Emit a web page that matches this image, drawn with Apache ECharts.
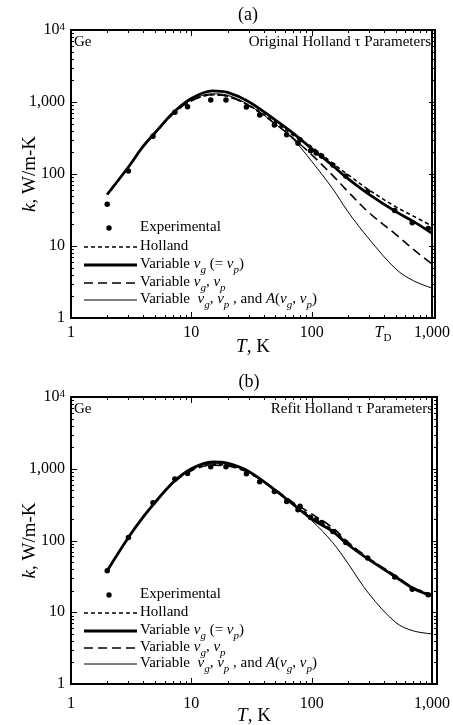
<!DOCTYPE html>
<html>
<head>
<meta charset="utf-8">
<script src="https://cdn.jsdelivr.net/npm/echarts@6/dist/echarts.min.js"></script>
<style>
  html, body { margin: 0; padding: 0; background: #fff; }
  #chart { width: 453px; height: 725px; }
</style>
</head>
<body>
<div id="chart"></div>
<script>
// experimental points (same data in both panels)
const expT = [2, 3, 4.8, 7.3, 9.3, 14.5, 19.4, 28.7, 37, 49, 62, 77, 80, 98, 109, 121, 150, 192, 292, 490, 685, 930]
const expK = [38, 110, 335, 720, 860, 1070, 1070, 855, 660, 480, 350, 268, 300, 210, 195, 178, 133, 94, 57, 31, 21, 17.5]

// temperatures where the model curves were read
const curveT = [2, 3, 4, 5, 7, 10, 15, 20, 30, 50, 70, 100, 150, 200, 300, 500, 700, 1000]

// (a) original Holland tau parameters
const aHolland = [52, 125, 245, 370, 680, 1040, 1260, 1200, 900, 520, 345, 238, 140, 98, 60, 35, 26, 19]
const aVarG = [52, 125, 245, 375, 700, 1120, 1430, 1360, 1010, 560, 370, 225, 130, 86, 52, 30, 22, 15]
const aVarGP = [52, 125, 245, 370, 680, 1040, 1260, 1200, 890, 495, 315, 185, 95, 57, 29, 14.5, 9, 5.6]
const aVarGPA = [52, 125, 245, 372, 690, 1070, 1300, 1240, 910, 495, 305, 150, 62, 30, 12.5, 4.8, 3.3, 2.6]

// (b) refit Holland tau parameters
const bHolland = [38, 110, 215, 340, 630, 960, 1150, 1110, 880, 500, 330, 215, 140, 92, 56, 32, 22, 17.5]
const bVarG = [38, 110, 215, 340, 640, 1000, 1250, 1200, 920, 500, 320, 200, 133, 88, 54, 31, 21.5, 17]
const bVarGP = [38, 110, 212, 335, 620, 940, 1120, 1090, 880, 510, 340, 235, 150, 95, 56, 32, 22, 17.5]
const bVarGPA = [38, 110, 215, 340, 635, 980, 1190, 1150, 890, 490, 310, 190, 93, 48, 18, 7.2, 5.5, 5.0]

// tick labels
const xTicks = [1, 10, 100, 1000]
const xTickText = ['1', '10', '100', '1,000']
const yTicks = [1, 10, 100, 1000, 10000]
const yTickText = ['1', '10', '100', '1,000', '{b|10}{p|4}']

const debyeT = 374
const panelTitles = ['(a)', '(b)']
const panelNotes = ['Original Holland τ Parameters', 'Refit Holland τ Parameters']

const F = 'Liberation Serif'
const myChart = echarts.init(document.getElementById('chart'))

const grids = [
  { left: 71, top: 30, width: 364, height: 288 },
  { left: 71, top: 397, width: 366, height: 287 }
]
const labelMargin = [7, 12]

function logAxis (p, pos, min, max) {
  return {
    type: 'log', gridIndex: p, position: pos, min: min, max: max,
    axisLine: { show: true, onZero: false, lineStyle: { color: '#000', width: 2 } },
    axisTick: { show: false },
    minorTick: { show: false },
    splitLine: { show: false },
    axisLabel: { show: false }
  }
}

const xAxes = []
const yAxes = []
grids.forEach(function (g, p) {
  const xb = logAxis(p, 'bottom', 1, 1000)
  xb.axisLabel = {
    show: true, color: '#000', fontFamily: F, fontSize: 16, margin: labelMargin[p],
    showMinLabel: true, showMaxLabel: true,
    formatter: function (v) { return xTickText[xTicks.indexOf(v)] || '' }
  }
  xAxes.push(xb)
  xAxes.push(logAxis(p, 'top', 1, 1000))

  const yl = logAxis(p, 'left', 1, 10000)
  yl.axisLabel = {
    show: true, color: '#000', fontFamily: F, fontSize: 16, margin: 6,
    showMinLabel: true, showMaxLabel: true,
    formatter: function (v) { return yTickText[yTicks.indexOf(v)] || '' },
    rich: {
      b: { fontFamily: F, fontSize: 16, lineHeight: 16, color: '#000', verticalAlign: 'bottom' },
      p: { fontFamily: F, fontSize: 11, lineHeight: 11, color: '#000', verticalAlign: 'top' }
    }
  }
  yAxes.push(yl)
  yAxes.push(logAxis(p, 'right', 1, 10000))
})

function pairs (xs, ys) {
  return xs.map(function (x, i) { return [x, ys[i]] })
}

const lineStyles = [
  { type: [4, 3], width: 1.6 },   // Holland
  { type: 'solid', width: 2.8 },  // Variable vg (= vp)
  { type: [9, 5], width: 1.6 },   // Variable vg, vp
  { type: 'solid', width: 1 }     // Variable vg, vp, A
]
const panelCurves = [
  [aHolland, aVarG, aVarGP, aVarGPA],
  [bHolland, bVarG, bVarGP, bVarGPA]
]
const curveNames = ['Holland', 'Variable vg (= vp)', 'Variable vg, vp', 'Variable vg, vp, A']

const series = []
panelCurves.forEach(function (curves, p) {
  curves.forEach(function (vals, c) {
    series.push({
      name: curveNames[c], type: 'line', xAxisIndex: p * 2, yAxisIndex: p * 2,
      data: pairs(curveT, vals), smooth: 0.35, showSymbol: false,
      lineStyle: Object.assign({ color: '#000' }, lineStyles[c])
    })
  })
  series.push({
    name: 'Experimental', type: 'scatter', xAxisIndex: p * 2, yAxisIndex: p * 2,
    data: pairs(expT, expK), symbolSize: 5.5, itemStyle: { color: '#000', opacity: 1 }, z: 5
  })
})

myChart.setOption({
  animation: false,
  backgroundColor: '#fff',
  grid: grids,
  xAxis: xAxes,
  yAxis: yAxes,
  series: series
})

// ---- frame, ticks, legend and annotations (positions from the axes) ----
const rich = {
  n: { fontFamily: F, fontSize: 15, lineHeight: 16, verticalAlign: 'top', fill: '#000' },
  i: { fontFamily: F, fontSize: 15, fontStyle: 'italic', lineHeight: 16, verticalAlign: 'top', fill: '#000' },
  s: { fontFamily: F, fontSize: 11, fontStyle: 'italic', lineHeight: 11, padding: [8, 0, 0, 0], verticalAlign: 'top', fill: '#000' },
  u: { fontFamily: F, fontSize: 11, lineHeight: 11, padding: [8, 0, 0, 0], verticalAlign: 'top', fill: '#000' },
  N: { fontFamily: F, fontSize: 19, lineHeight: 20, fill: '#000' },
  I: { fontFamily: F, fontSize: 19, fontStyle: 'italic', lineHeight: 20, fill: '#000' },
  T: { fontFamily: F, fontSize: 16, fontStyle: 'italic', lineHeight: 16, verticalAlign: 'top', fill: '#000' }
}
const legendText = [
  '{n|Experimental}',
  '{n|Holland}',
  '{n|Variable }{i|ν}{s|g}{n| (= }{i|ν}{s|p}{n|)}',
  '{n|Variable }{i|ν}{s|g}{n|, }{i|ν}{s|p}',
  '{n|Variable  }{i|ν}{s|g}{n|, }{i|ν}{s|p}{n| , and }{i|A}{n|(}{i|ν}{s|g}{n|, }{i|ν}{s|p}{n|)}'
]
const legendRows = [
  [228, 247, 265, 283, 300],
  [595, 613, 631, 648, 664]
]

const tickStyle = { stroke: '#000', lineWidth: 1 }
const graphic = []
grids.forEach(function (g, p) {
  const x0 = g.left
  const x1 = g.left + g.width
  const y0 = g.top
  const y1 = g.top + g.height

  // frame
  graphic.push({
    type: 'rect', shape: { x: x0, y: y0, width: g.width, height: g.height },
    style: { fill: null, stroke: '#000', lineWidth: 2 }, silent: true
  })

  // T ticks (bottom and top), major 6 px, minor 3 px
  for (let d = 0; d < 3; d++) {
    for (let m = 1; m <= 9; m++) {
      const v = m * Math.pow(10, d)
      if (v === 1) continue
      const len = m === 1 ? 6 : 3
      const px = Math.round(myChart.convertToPixel({ xAxisIndex: p * 2 }, v)) + 0.5
      graphic.push({ type: 'line', silent: true, shape: { x1: px, y1: y1, x2: px, y2: y1 - len }, style: tickStyle })
      graphic.push({ type: 'line', silent: true, shape: { x1: px, y1: y0, x2: px, y2: y0 + len }, style: tickStyle })
    }
  }
  // k ticks (left and right)
  for (let d = 0; d < 4; d++) {
    for (let m = 1; m <= 9; m++) {
      const v = m * Math.pow(10, d)
      if (v === 1) continue
      const len = m === 1 ? 6 : 3
      const py = Math.round(myChart.convertToPixel({ yAxisIndex: p * 2 }, v)) + 0.5
      graphic.push({ type: 'line', silent: true, shape: { x1: x0, y1: py, x2: x0 + len, y2: py }, style: tickStyle })
      graphic.push({ type: 'line', silent: true, shape: { x1: x1, y1: py, x2: x1 - len, y2: py }, style: tickStyle })
    }
  }

  // legend
  legendRows[p].forEach(function (y, r) {
    if (r === 0) {
      graphic.push({ type: 'circle', shape: { cx: 109, cy: y, r: 2.7 }, style: { fill: '#000' } })
    } else {
      const ls = lineStyles[r - 1]
      graphic.push({
        type: 'line', shape: { x1: 84, y1: y, x2: 137, y2: y },
        style: { stroke: '#000', lineWidth: ls.width, lineDash: ls.type === 'solid' ? null : ls.type }
      })
    }
    graphic.push({
      type: 'text', x: 140, y: y - 8,
      style: { text: legendText[r], rich: rich, fill: '#000' }
    })
  })

  // titles and notes
  graphic.push({
    type: 'text', x: (x0 + x1) / 2 - 5, y: y0 - 15,
    style: { text: panelTitles[p], fontFamily: F, fontSize: 18, fill: '#000', align: 'center', verticalAlign: 'middle' }
  })
  graphic.push({
    type: 'text', x: x0 + 3, y: y0 + 12,
    style: { text: 'Ge', fontFamily: F, fontSize: 15, fill: '#000', verticalAlign: 'middle' }
  })
  graphic.push({
    type: 'text', x: x1 - 4, y: y0 + 12,
    style: { text: panelNotes[p], fontFamily: F, fontSize: 15, fill: '#000', align: 'right', verticalAlign: 'middle' }
  })

  // axis names
  graphic.push({
    type: 'text', x: (x0 + x1) / 2, y: y1 + (p === 0 ? 29 : 32),
    style: { text: '{I|T}{N|, K}', rich: rich, align: 'center', verticalAlign: 'middle' }
  })
  graphic.push({
    type: 'text', x: 30, y: (y0 + y1) / 2, rotation: Math.PI / 2,
    style: { text: '{I|k}{N|, W/m-K}', rich: rich, align: 'center', verticalAlign: 'middle' }
  })
})

// Debye temperature label on the (a) T axis
const tdX = myChart.convertToPixel({ xAxisIndex: 0 }, debyeT)
graphic.push({
  type: 'text', x: tdX - 6, y: grids[0].top + grids[0].height + labelMargin[0],
  style: { text: '{T|T}{u|D}', rich: rich, fill: '#000' }
})

myChart.setOption({ graphic: graphic })

window.addEventListener('resize', function () {
  myChart.resize()
})
</script>
</body>
</html>
